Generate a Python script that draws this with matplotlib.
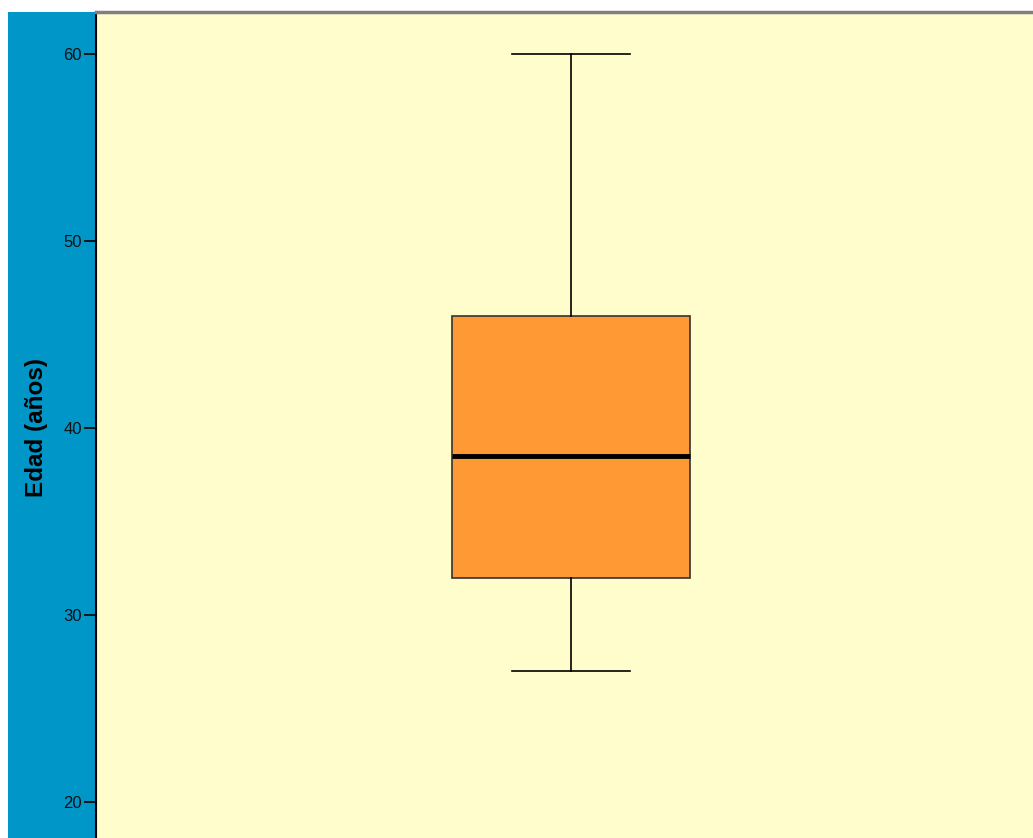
import matplotlib
matplotlib.use("Agg")
import matplotlib.pyplot as plt
from matplotlib.patches import Rectangle

# Data
labels = [""]
whislo = [27.0]
q1 = [32.0]
med = [38.5]
q3 = [46.0]
whishi = [60.0]
yticks = [20, 30, 40, 50, 60]
ylabel = "Edad (años)"

W, H = 1033, 838
fig = plt.figure(figsize=(W / 100, H / 100), dpi=100)
fig.patch.set_facecolor("white")
# blue left panel
fig.patches.append(Rectangle((8 / W, 0), (96 - 8) / W, 1 - 12 / H,
                             transform=fig.transFigure, facecolor="#0096C8",
                             edgecolor="none", zorder=-5))

ax = fig.add_axes([96 / W, 0, (W - 96) / W, 1 - 12 / H])
ax.set_zorder(2)
ax.set_facecolor("#FFFDCC")

stats = [dict(label=l, whislo=a, q1=b, med=c, q3=d, whishi=e, fliers=[])
         for l, a, b, c, d, e in zip(labels, whislo, q1, med, q3, whishi)]
ax.bxp(stats, positions=[0.507], widths=0.254, capwidths=0.125,
       patch_artist=True, showfliers=False,
       boxprops=dict(facecolor="#FF9933", edgecolor="#333333", linewidth=1.2),
       medianprops=dict(color="black", linewidth=3.5),
       whiskerprops=dict(color="black", linewidth=1.2),
       capprops=dict(color="black", linewidth=1.2))

ax.set_xlim(0, 1)
ax.set_ylim(18.07, 62.25)
ax.set_yticks(yticks)
ax.set_yticklabels([str(t) for t in yticks], fontsize=12, family="Liberation Sans",
                   color="#111111")
ax.set_xticks([])
ax.tick_params(axis="y", direction="out", length=8.5, width=1.2, pad=1.5)
for s in ["right", "bottom"]:
    ax.spines[s].set_visible(False)
ax.spines["left"].set_color("black")
ax.spines["left"].set_linewidth(1.5)
ax.spines["top"].set_color("#808080")
ax.spines["top"].set_linewidth(2.5)

t = fig.text(36 / W, 1 - 427 / H, ylabel, rotation=90, ha="center", va="center",
             fontsize=17.5, fontweight="bold", family="Liberation Sans", zorder=3)

fig.savefig("out.png", dpi=100)
